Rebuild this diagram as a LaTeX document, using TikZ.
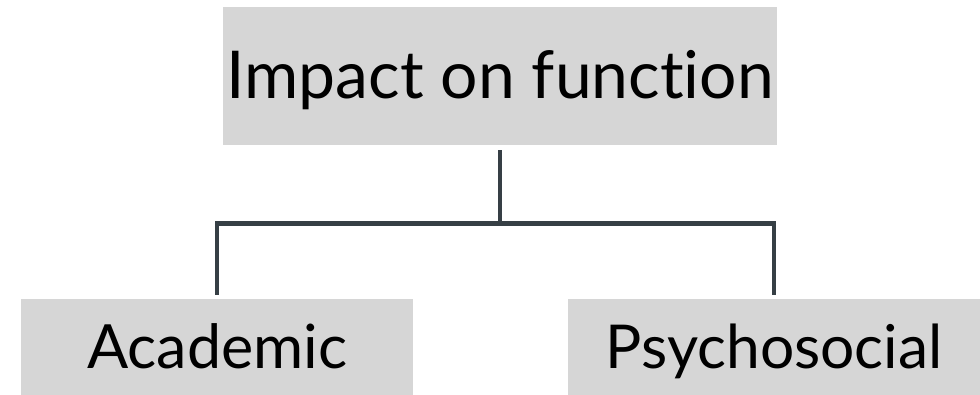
\documentclass[tikz,border=0pt]{standalone}
\usepackage{fontspec}
\setmainfont{Lato}[Ligatures={NoCommon,NoDiscretionary,NoRare}]
\definecolor{boxgray}{HTML}{D6D6D6}
\definecolor{linecol}{HTML}{363F45}
\begin{document}
\begin{tikzpicture}[x=1pt,y=1pt,
  box/.style={fill=boxgray,draw=none,inner sep=0pt,anchor=north west,text=black},
  conn/.style={draw=linecol,line width=4.5pt,line join=miter,line cap=rect}]
\useasboundingbox (0,0) rectangle (980,-395);
\node[box,minimum width=554pt,text height=91pt,text depth=47pt,font=\fontsize{66}{70}\selectfont] (top) at (223,-7) {Impact on func\kern0pt tion};
\node[box,minimum width=392pt,text height=69pt,text depth=27pt,font=\fontsize{61}{64}\selectfont] (acad) at (21,-299) {Academic};
\node[box,minimum width=412pt,text height=69pt,text depth=27pt,font=\fontsize{60.5}{64}\selectfont] (psy) at (568,-299) {Psychosocial};
\draw[conn] ([yshift=-7pt]top.south) -- ++(0,-71) coordinate (j);
\draw[conn] ([yshift=6pt]acad.north) |- (j) -| ([yshift=6pt]psy.north);
\end{tikzpicture}
\end{document}
